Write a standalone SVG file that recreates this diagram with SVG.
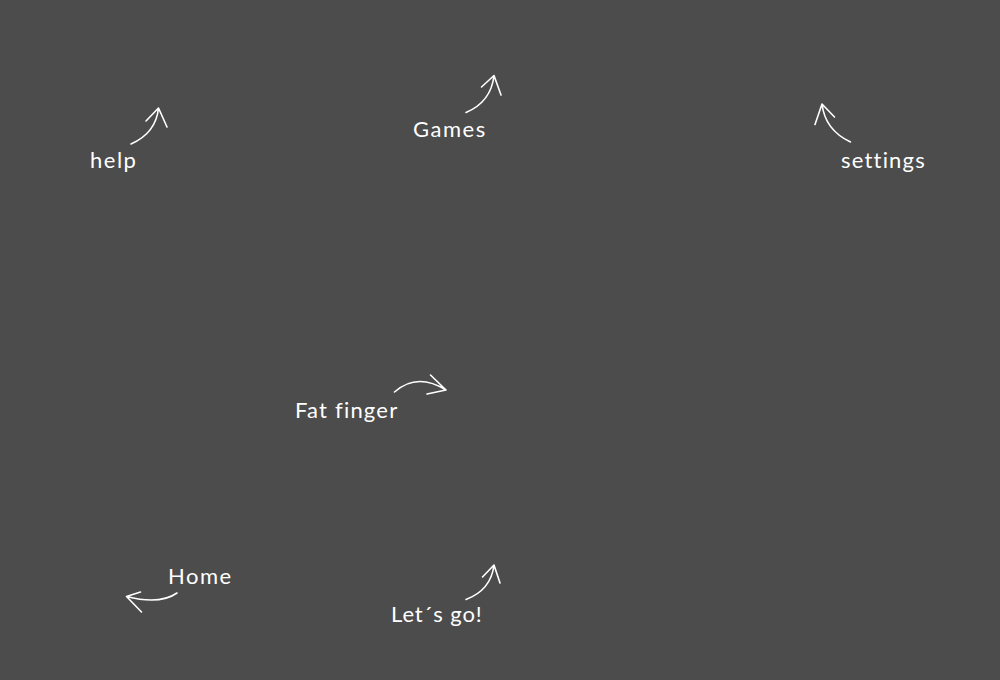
<svg xmlns="http://www.w3.org/2000/svg" width="1000" height="680" viewBox="0 0 1000 680">
<style>
.lbl{font-family:Lato,"Open Sans","Liberation Sans",sans-serif;font-size:22px;letter-spacing:1.5px;fill:#ffffff}
.ar{fill:none;stroke:#ffffff;stroke-width:1.6;stroke-linecap:round;stroke-linejoin:round}
</style>
<rect width="1000" height="680" fill="#4c4c4c"/>
<g id="help"><text class="lbl" x="90" y="168">help</text></g>
<g id="games"><text class="lbl" x="413" y="137">Games</text></g>
<g id="settings"><text class="lbl" x="841" y="168" style="letter-spacing:1.2px">settings</text></g>
<g id="fatfinger"><text class="lbl" x="295" y="418" style="letter-spacing:1.2px">Fat finger</text></g>
<g id="home"><text class="lbl" x="168" y="584">Home</text></g>
<g id="letsgo"><text class="lbl" x="391" y="622" style="letter-spacing:0.9px">Let´s go!</text></g>
<g id="connectors">
<path class="ar" d="M131,144 Q156,133 158.5,108 M146,121 L158.5,108 L167,127"/>
<path class="ar" d="M466,112.5 Q491,102 494,75.5 M481.5,87 L494,75.5 L501,95"/>
<path class="ar" d="M850.5,142 Q825,130 822,104 M815,124.5 L822,104 L834.5,117"/>
<path class="ar" d="M394.5,392 Q417,372 446,390 M430.5,375 L446,390 L427,394"/>
<path class="ar" d="M177,593 Q160,605 126.5,596.5 M140.5,592 L126.5,596.5 L141.5,612"/>
<path class="ar" d="M466,599.5 Q491,590 494,565 M482.5,577 L494,565 L500,583"/>
</g>
</svg>
